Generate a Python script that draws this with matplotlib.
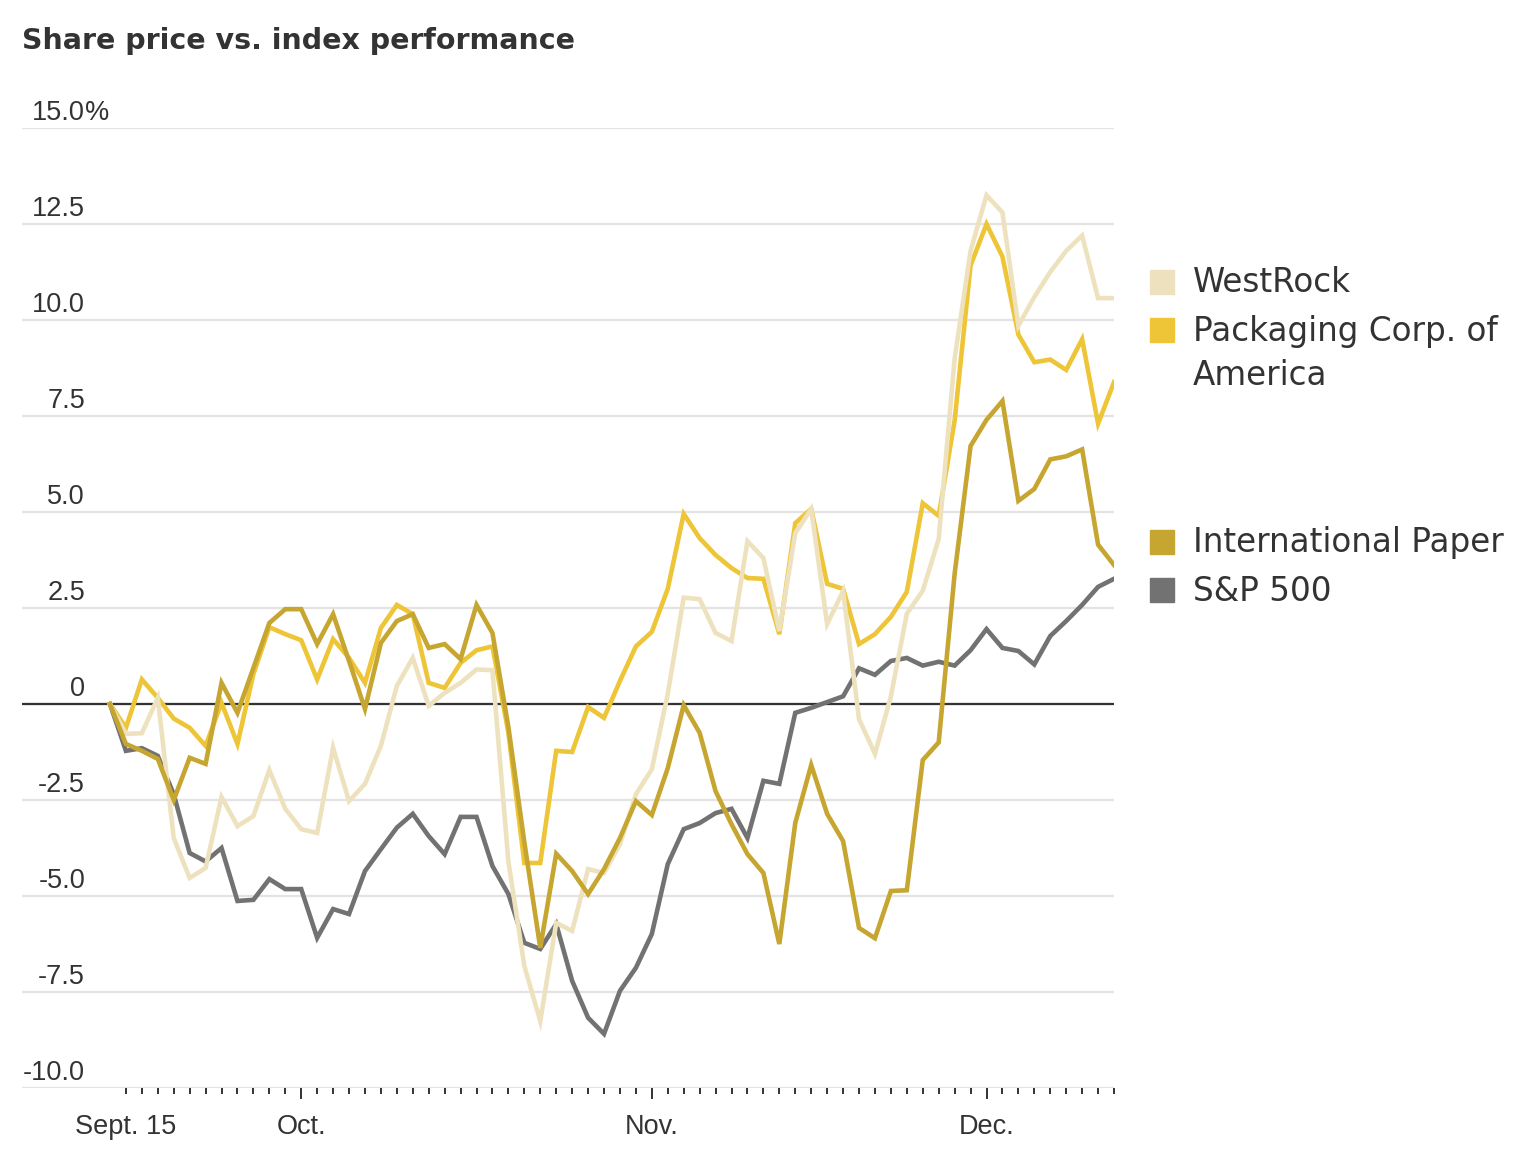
import matplotlib
matplotlib.use("Agg")
import matplotlib.pyplot as plt
import matplotlib.transforms as mtransforms
from matplotlib.patches import Rectangle

# Trading days from Sept. 14 (base, 0%) to Dec. 13
days = list(range(64))

westrock = [0, -0.78, -0.76, 0.16, -3.49, -4.53, -4.27, -2.42, -3.18, -2.92,
            -1.72, -2.73, -3.26, -3.36, -1.14, -2.53, -2.08, -1.09, 0.47, 1.2,
            -0.05, 0.29, 0.55, 0.9, 0.88, -4.1, -6.82, -8.26, -5.7, -5.91,
            -4.3, -4.4, -3.65, -2.35, -1.7, 0.26, 2.77, 2.73, 1.85, 1.64,
            4.24, 3.8, 1.9, 4.45, 5.08, 2.08, 2.94, -0.39, -1.3, 0.2,
            2.35, 2.95, 4.3, 9.0, 11.8, 13.25, 12.8, 9.85, 10.6, 11.25,
            11.8, 12.2, 10.57, 10.57]

pca = [0, -0.62, 0.64, 0.16, -0.38, -0.62, -1.09, 0.03, -1.04, 0.78,
       2.0, 1.82, 1.66, 0.64, 1.69, 1.2, 0.55, 1.98, 2.58, 2.34,
       0.55, 0.42, 1.07, 1.4, 1.5, -0.75, -4.14, -4.14, -1.22, -1.25,
       -0.08, -0.36, 0.6, 1.5, 1.88, 3.0, 4.95, 4.32, 3.88, 3.54,
       3.28, 3.26, 1.82, 4.71, 5.08, 3.13, 3.0, 1.56, 1.82, 2.27,
       2.92, 5.23, 4.9, 7.38, 11.42, 12.5, 11.65, 9.62, 8.9, 8.97,
       8.7, 9.5, 7.3, 8.38]

intl_paper = [0, -1.04, -1.22, -1.43, -2.5, -1.4, -1.56, 0.55, -0.23, 0.94,
              2.11, 2.47, 2.47, 1.56, 2.34, 1.12, -0.13, 1.59, 2.16, 2.34,
              1.46, 1.56, 1.17, 2.58, 1.85, -0.6, -3.6, -6.35, -3.9, -4.35,
              -4.95, -4.3, -3.49, -2.53, -2.89, -1.67, -0.03, -0.75, -2.27, -3.13,
              -3.91, -4.4, -6.25, -3.1, -1.59, -2.86, -3.57, -5.83, -6.1, -4.87,
              -4.85, -1.46, -1.0, 3.39, 6.72, 7.4, 7.89, 5.29, 5.6, 6.37,
              6.45, 6.63, 4.15, 3.62]

sp500 = [0, -1.22, -1.15, -1.35, -2.35, -3.88, -4.1, -3.75, -5.13, -5.1,
         -4.56, -4.82, -4.82, -6.09, -5.34, -5.47, -4.35, -3.78, -3.22, -2.86,
         -3.44, -3.91, -2.94, -2.94, -4.22, -4.95, -6.22, -6.38, -5.73, -7.21,
         -8.17, -8.59, -7.47, -6.87, -5.99, -4.17, -3.26, -3.1, -2.84, -2.73,
         -3.49, -2.0, -2.08, -0.23, -0.1, 0.05, 0.2, 0.93, 0.76, 1.12,
         1.2, 1.0, 1.1, 1.0, 1.4, 1.95, 1.46, 1.38, 1.03, 1.77,
         2.16, 2.58, 3.05, 3.26]

y_ticks = [15, 12.5, 10, 7.5, 5, 2.5, 0, -2.5, -5, -7.5, -10]
y_labels = ["15.0", "12.5", "10.0", "7.5", "5.0", "2.5", "0", "-2.5", "-5.0", "-7.5", "-10.0"]
x_major = [1, 12, 34, 55]
x_labels = ["Sept. 15", "Oct.", "Nov.", "Dec."]

c_west = "#EEE2BE"
c_pca = "#EDC536"
c_ip = "#C6A630"
c_sp = "#727272"
text_col = "#333333"

W, H = 1536, 1158
fig = plt.figure(figsize=(W / 100, H / 100), dpi=100)

def fx(px):
    return px / W

def fy(py):
    return 1 - py / H

ax = fig.add_axes([fx(22), fy(1088), fx(1114) - fx(22), fy(128) - fy(1088)])
ax.set_xlim(-5.52, 63)
ax.set_ylim(-10, 15)

for s in ax.spines.values():
    s.set_visible(False)

ax.set_yticks(y_ticks)
ax.yaxis.grid(True, color="#E3E3E3", lw=1.6)
ax.set_axisbelow(True)
ax.tick_params(axis="y", length=0, labelleft=False)
ax.axhline(0, color="#333333", lw=1.6, zorder=2)

ax.plot(days, sp500, color=c_sp, lw=3.3, zorder=3, solid_joinstyle="miter")
ax.plot(days, pca, color=c_pca, lw=3.3, zorder=4, solid_joinstyle="miter")
ax.plot(days, westrock, color=c_west, lw=3.3, zorder=5, solid_joinstyle="miter")
ax.plot(days, intl_paper, color=c_ip, lw=3.3, zorder=6, solid_joinstyle="miter")

# x axis ticks
ax.set_xticks(x_major)
ax.set_xticklabels(x_labels, fontsize=19.5, color=text_col, family=["Liberation Sans", "DejaVu Sans"])
ax.set_xticks([d for d in range(1, 64) if d not in x_major], minor=True)
ax.tick_params(axis="x", which="major", length=8, width=1.4, color=text_col, pad=11)
ax.tick_params(axis="x", which="minor", length=4.3, width=1.4, color=text_col)
ax.xaxis.get_major_ticks()[0].tick1line.set_markersize(4.3)

# y labels sitting above gridlines
trans = mtransforms.blended_transform_factory(ax.transAxes, ax.transData)
xr = (85 - 22) / (1114 - 22)
for v, lab in zip(y_ticks, y_labels):
    ax.text(xr, v + 0.2, lab, transform=trans, ha="right", va="baseline",
            fontsize=19.5, color=text_col, family=["Liberation Sans", "DejaVu Sans"])
ax.text(xr, 15.2, "%", transform=trans, ha="left", va="baseline",
        fontsize=19.5, color=text_col, family=["Liberation Sans", "DejaVu Sans"])

# title
fig.text(fx(22), fy(49), "Share price vs. index performance", fontsize=20.5,
         fontweight="bold", color=text_col, ha="left", va="baseline")

# legend
legend_items = [
    (c_west, 270, ["WestRock"], 292),
    (c_pca, 318, ["Packaging Corp. of", "America"], 341),
    (c_ip, 530, ["International Paper"], 552),
    (c_sp, 578, ["S&P 500"], 601),
]
for col, top, lines, base in legend_items:
    fig.add_artist(Rectangle((fx(1150), fy(top + 24)), fx(24), fy(top) - fy(top + 24),
                             transform=fig.transFigure, color=col))
    for k, line in enumerate(lines):
        fig.text(fx(1193), fy(base + 44 * k), line, fontsize=23.5, color=text_col,
                 ha="left", va="baseline")

fig.savefig("out.png", dpi=100, facecolor="white")
